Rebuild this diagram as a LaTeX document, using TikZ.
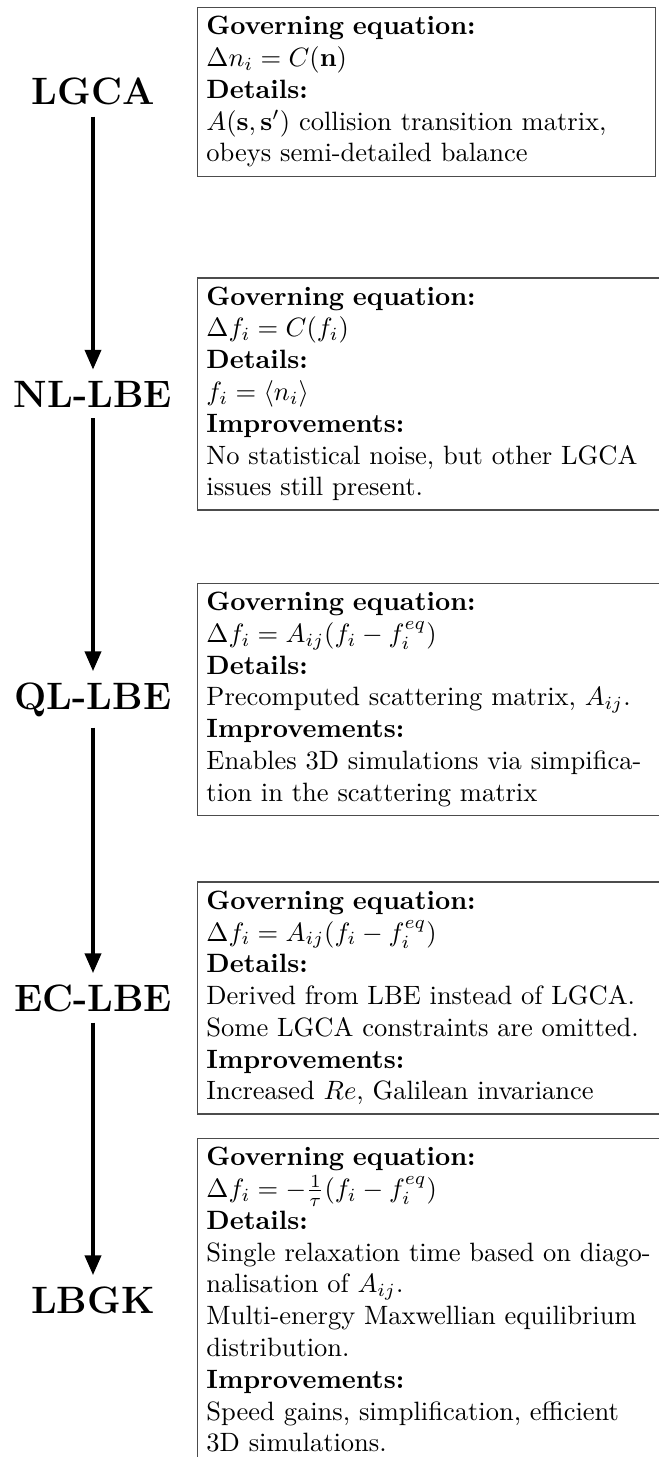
\documentclass[tikz,border=0pt]{standalone}
\usetikzlibrary{arrows.meta}
\begin{document}
\begin{tikzpicture}[x=0.3774pt,y=-0.3774pt,
  lbl/.style={font=\Large\bfseries, inner sep=4pt, anchor=base},
  infobox/.style={draw=black!70, line width=0.5pt, anchor=west, align=left, inner sep=3.33pt, font=\normalsize},
  flow/.style={-{Triangle[length=7.5pt,width=6pt]}, line width=1.5pt}]
\useasboundingbox (0,0) rectangle (658,1457);
\node[lbl] (lgca) at (93,105) {LGCA};
\node[lbl] (nl) at (93,407) {NL-LBE};
\node[lbl] (ql) at (93,709) {QL-LBE};
\node[lbl] (ec) at (93,1011) {EC-LBE};
\node[lbl] (lbgk) at (93,1313) {LBGK};
\draw[flow] (lgca.south) -- (nl.north);
\draw[flow] (nl.south) -- (ql.north);
\draw[flow] (ql.south) -- (ec.north);
\draw[flow] (ec.south) -- (lbgk.north);
\coordinate (bl) at (197,0);
\node[infobox, text width=166pt] (b1) at (lgca.center -| bl) {\textbf{Governing equation:}\\
$\Delta n_i = C(\mathbf{n})$\\
\textbf{Details:}\\
$A(\mathbf{s},\mathbf{s}')$ collision transition matrix,\\
obeys semi-detailed balance};
\node[infobox, text width=200pt] (b2) at (nl.center -| bl) {\textbf{Governing equation:}\\
$\Delta f_i = C(f_i)$\\
\textbf{Details:}\\
$f_i = \langle n_i\rangle$\\
\textbf{Improvements:}\\
No statistical noise, but other LGCA\\
issues still present.};
\node[infobox, text width=200pt] (b3) at (ql.center -| bl) {\textbf{Governing equation:}\\
$\Delta f_i = A_{ij}(f_i - f_i^{eq})$\\
\textbf{Details:}\\
Precomputed scattering matrix, $A_{ij}$.\\
\textbf{Improvements:}\\
Enables 3D simulations via simpifica-\\
tion in the scattering matrix};
\node[infobox, text width=200pt] (b4) at (ec.center -| bl) {\textbf{Governing equation:}\\
$\Delta f_i = A_{ij}(f_i - f_i^{eq})$\\
\textbf{Details:}\\
Derived from LBE instead of LGCA.\\
Some LGCA constraints are omitted.\\
\textbf{Improvements:}\\
Increased $Re$, Galilean invariance};
\node[infobox, text width=200pt] (b5) at (lbgk.center -| bl) {\textbf{Governing equation:}\\
$\Delta f_i = -\frac{1}{\tau}(f_i - f_i^{eq})$\\
\textbf{Details:}\\
Single relaxation time based on diago-\\
nalisation of $A_{ij}$.\\
Multi-energy Maxwellian equilibrium\\
distribution.\\
\textbf{Improvements:}\\
Speed gains, simplification, efficient\\
3D simulations.};
\end{tikzpicture}
\end{document}
